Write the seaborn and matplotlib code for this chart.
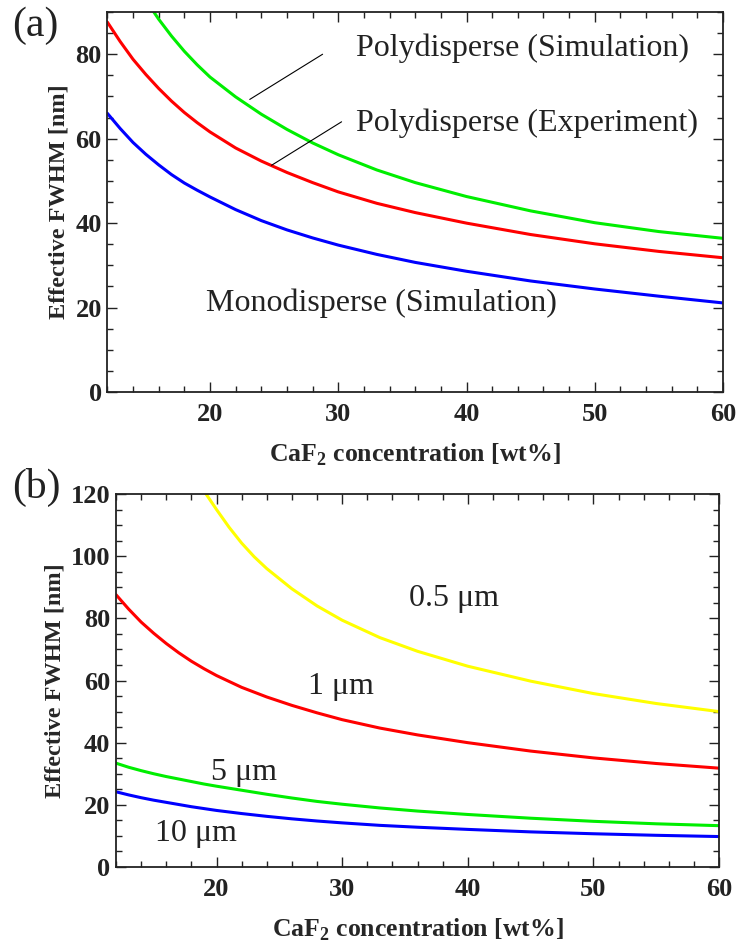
import matplotlib
matplotlib.use("Agg")
import matplotlib.pyplot as plt
import seaborn as sns
import pandas as pd
from matplotlib.ticker import MultipleLocator

sns.set_style("ticks")
plt.rcParams['font.family'] = ['Liberation Serif', 'DejaVu Serif']
plt.rcParams['mathtext.fontset'] = 'custom'
plt.rcParams['mathtext.rm'] = 'Liberation Serif'
plt.rcParams['mathtext.bf'] = 'Liberation Serif:bold'

# ---------------- data ----------------
conc = [12, 13, 14, 15, 16, 17, 18, 19, 20, 22, 24, 26, 28, 30, 33, 36, 40, 45, 50, 55, 60]

# panel (a)
mono_sim = [66.0, 62.4, 59.1, 56.3, 53.8, 51.5, 49.5, 47.8, 46.2, 43.2, 40.6, 38.4, 36.5, 34.8,
            32.6, 30.7, 28.6, 26.3, 24.4, 22.7, 21.1]
poly_exp = [87.6, 83.0, 78.8, 75.2, 71.9, 68.9, 66.2, 63.8, 61.6, 57.8, 54.7, 52.0, 49.6, 47.4,
            44.7, 42.5, 40.0, 37.3, 35.1, 33.3, 31.8]
conc_poly_sim = [15, 16, 17, 18, 19, 20, 22, 24, 26, 28, 30, 33, 36, 40, 45, 50, 55, 60]
poly_sim = [92.8, 88.3, 84.3, 80.7, 77.5, 74.6, 69.9, 65.8, 62.2, 59.0, 56.2, 52.6, 49.6, 46.3,
            42.9, 40.1, 38.0, 36.4]

# panel (b)
conc_05 = [19, 20, 21, 22, 23, 24, 26, 28, 30, 33, 36, 40, 45, 50, 55, 60]
size_05 = [121.0, 115.0, 109.3, 104.2, 99.8, 96.0, 89.5, 84.0, 79.4, 73.8, 69.4, 64.6, 59.8, 55.8,
           52.6, 50.0]
size_1 = poly_exp
size_5 = [33.4, 32.1, 31.0, 30.0, 29.1, 28.3, 27.5, 26.7, 26.0, 24.7, 23.4, 22.2, 21.1, 20.2,
          19.0, 18.0, 16.9, 15.7, 14.7, 13.9, 13.3]
size_10 = [24.2, 23.2, 22.3, 21.5, 20.8, 20.1, 19.4, 18.8, 18.2, 17.2, 16.3, 15.5, 14.8, 14.2,
           13.4, 12.8, 12.1, 11.3, 10.7, 10.2, 9.8]

labels_a = ["Polydisperse (Simulation)", "Polydisperse (Experiment)", "Monodisperse (Simulation)"]
labels_b = ["0.5 μm", "1 μm", "5 μm", "10 μm"]

df_a = pd.concat([
    pd.DataFrame({"x": conc_poly_sim, "y": poly_sim, "s": "poly_sim"}),
    pd.DataFrame({"x": conc, "y": poly_exp, "s": "poly_exp"}),
    pd.DataFrame({"x": conc, "y": mono_sim, "s": "mono_sim"}),
])
df_b = pd.concat([
    pd.DataFrame({"x": conc_05, "y": size_05, "s": "0.5"}),
    pd.DataFrame({"x": conc, "y": size_1, "s": "1"}),
    pd.DataFrame({"x": conc, "y": size_5, "s": "5"}),
    pd.DataFrame({"x": conc, "y": size_10, "s": "10"}),
])

pal_a = {"poly_sim": "#00ee00", "poly_exp": "#ff0000", "mono_sim": "#0000ff"}
pal_b = {"0.5": "#ffff00", "1": "#ff0000", "5": "#00ee00", "10": "#0000ff"}

fig = plt.figure(figsize=(7.38, 9.46), dpi=100)
axa = fig.add_axes([0.1455, 0.5856, 0.8342, 0.4017])
axb = fig.add_axes([0.1572, 0.0835, 0.8171, 0.3943])

sns.lineplot(data=df_a, x="x", y="y", hue="s", palette=pal_a, ax=axa, legend=False,
             linewidth=2.2, sort=True, estimator=None)
sns.lineplot(data=df_b, x="x", y="y", hue="s", palette=pal_b, ax=axb, legend=False,
             linewidth=2.2, sort=True, estimator=None)

def style(ax, ymax, ymaj, ymin):
    ax.set_xlim(12, 60)
    ax.set_ylim(0, ymax)
    ax.xaxis.set_major_locator(MultipleLocator(10))
    ax.xaxis.set_minor_locator(MultipleLocator(2))
    ax.yaxis.set_major_locator(MultipleLocator(ymaj))
    ax.yaxis.set_minor_locator(MultipleLocator(ymin))
    ax.tick_params(which='both', direction='in', top=True, right=True,
                   labelsize=19, colors='#222222', width=1.0)
    ax.tick_params(axis='x', which='major', pad=8)
    ax.tick_params(axis='y', which='major', pad=4)
    ax.tick_params(which='major', length=7)
    ax.tick_params(which='minor', length=4)
    for lab in ax.get_xticklabels() + ax.get_yticklabels():
        lab.set_fontweight('bold')
    for sp in ax.spines.values():
        sp.set_visible(True)
        sp.set_linewidth(1.3)
        sp.set_color('#222222')
    ax.set_xlabel(r"CaF$_\mathbf{2}$ concentration [wt%]", fontsize=18.5, fontweight='bold', labelpad=11)
    ax.set_ylabel("Effective FWHM [nm]", fontsize=17.5, fontweight='bold', labelpad=4)

style(axa, 90, 20, 5)
style(axb, 120, 20, 5)

# panel a texts
fs = 23
tc = '#222222'
axa.text(31.4, 81.4, labels_a[0], fontsize=fs, va='center', ha='left', color=tc)
axa.text(31.4, 63.7, labels_a[1], fontsize=fs, va='center', ha='left', color=tc)
axa.text(19.7, 21.1, labels_a[2], fontsize=fs, va='center', ha='left', color=tc)
axa.plot([23.1, 28.78], [69.3, 80.0], color='black', lw=0.8)
axa.plot([24.8, 30.26], [53.7, 64.0], color='black', lw=0.8)

# panel b texts
axb.text(35.3, 86.5, labels_b[0], fontsize=fs, va='center', ha='left', color=tc)
axb.text(27.3, 58.0, labels_b[1], fontsize=fs, va='center', ha='left', color=tc)
axb.text(19.6, 30.5, labels_b[2], fontsize=fs, va='center', ha='left', color=tc)
axb.text(15.1, 10.9, labels_b[3], fontsize=fs, va='center', ha='left', color=tc)

fig.text(0.016, 0.9725, "(a)", fontsize=30, va='center', ha='left', color=tc)
fig.text(0.016, 0.4852, "(b)", fontsize=30, va='center', ha='left', color=tc)

fig.savefig("out.png", dpi=100)
